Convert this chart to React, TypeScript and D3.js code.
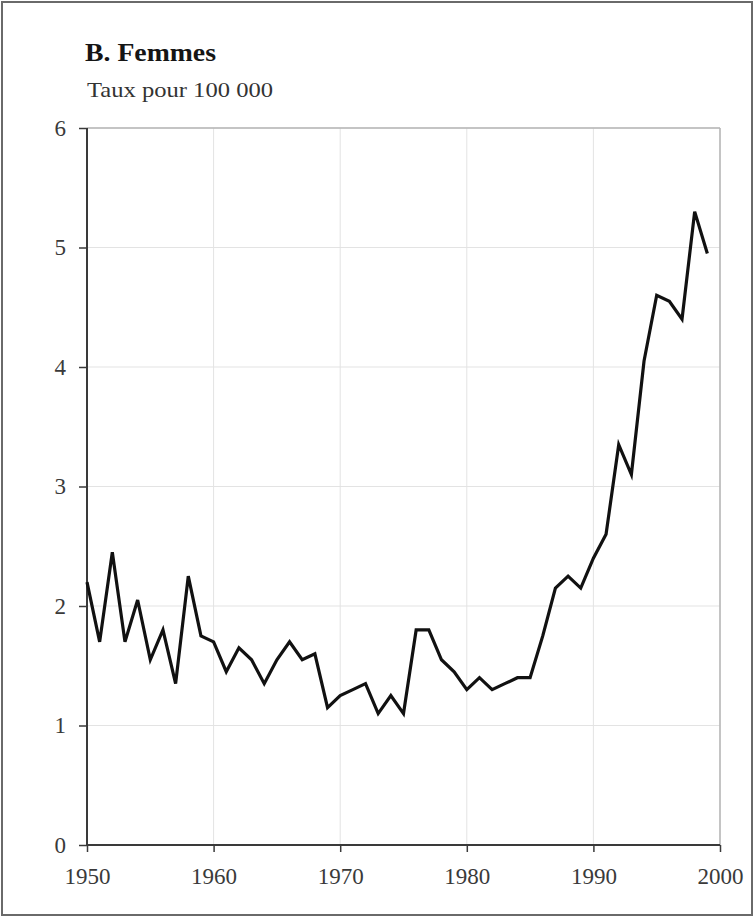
import React, { useEffect, useRef } from "react";
import * as d3 from "d3";

const years: number[] = [
  1950, 1951, 1952, 1953, 1954, 1955, 1956, 1957, 1958, 1959,
  1960, 1961, 1962, 1963, 1964, 1965, 1966, 1967, 1968, 1969,
  1970, 1971, 1972, 1973, 1974, 1975, 1976, 1977, 1978, 1979,
  1980, 1981, 1982, 1983, 1984, 1985, 1986, 1987, 1988, 1989,
  1990, 1991, 1992, 1993, 1994, 1995, 1996, 1997, 1998, 1999,
];
const rates: number[] = [
  2.2, 1.7, 2.45, 1.7, 2.05, 1.55, 1.8, 1.35, 2.25, 1.75,
  1.7, 1.45, 1.65, 1.55, 1.35, 1.55, 1.7, 1.55, 1.6, 1.15,
  1.25, 1.3, 1.35, 1.1, 1.25, 1.1, 1.8, 1.8, 1.55, 1.45,
  1.3, 1.4, 1.3, 1.35, 1.4, 1.4, 1.75, 2.15, 2.25, 2.15,
  2.4, 2.6, 3.35, 3.1, 4.05, 4.6, 4.55, 4.4, 5.3, 4.95,
];
const xTicks: number[] = [1950, 1960, 1970, 1980, 1990, 2000];
const yTicks: number[] = [0, 1, 2, 3, 4, 5, 6];
const title = "B. Femmes";
const subtitle = "Taux pour 100 000";

const W = 754;
const H = 917;
const FONT = "'Liberation Serif', 'DejaVu Serif', serif";

export default function App() {
  const ref = useRef<SVGSVGElement>(null);

  useEffect(() => {
    document.body.style.margin = "0";
    const svg = d3.select(ref.current);
    svg.selectAll("*").remove();

    const left = 87, right = 720, top = 128, bottom = 845;
    const x = d3.scaleLinear().domain([1950, 2000]).range([left, right]);
    const y = d3.scaleLinear().domain([0, 6]).range([bottom, top]);

    svg.append("rect").attr("x", 0).attr("y", 0).attr("width", W).attr("height", H).attr("fill", "#fff");
    svg.append("rect")
      .attr("x", 2).attr("y", 2).attr("width", W - 4).attr("height", H - 4)
      .attr("fill", "none").attr("stroke", "#6a6a6a").attr("stroke-width", 2);

    svg.append("text").attr("x", 85).attr("y", 61).attr("font-family", FONT)
      .attr("font-size", 25).attr("font-weight", "bold").attr("fill", "#151515")
      .attr("textLength", 131).attr("lengthAdjust", "spacingAndGlyphs").text(title);
    svg.append("text").attr("x", 87).attr("y", 97).attr("font-family", FONT)
      .attr("font-size", 22).attr("fill", "#333")
      .attr("textLength", 186).attr("lengthAdjust", "spacingAndGlyphs").text(subtitle);

    const g = svg.append("g");
    // grid
    g.selectAll("line.hg").data(yTicks.filter((d) => d > 0)).join("line")
      .attr("x1", left).attr("x2", right).attr("y1", (d) => y(d)).attr("y2", (d) => y(d))
      .attr("stroke", "#e3e3e3").attr("stroke-width", 1);
    g.selectAll("line.vg").data(xTicks.filter((d) => d > 1950)).join("line")
      .attr("x1", (d) => x(d)).attr("x2", (d) => x(d)).attr("y1", top).attr("y2", bottom)
      .attr("stroke", "#e3e3e3").attr("stroke-width", 1);
    // frame top/right
    g.append("line").attr("x1", left).attr("x2", right).attr("y1", top).attr("y2", top)
      .attr("stroke", "#b5b5b5").attr("stroke-width", 1.5);
    g.append("line").attr("x1", right).attr("x2", right).attr("y1", top).attr("y2", bottom)
      .attr("stroke", "#b5b5b5").attr("stroke-width", 1.5);

    // axes
    const yAxis = d3.axisLeft(y).tickValues(yTicks).tickSize(8).tickPadding(13).tickFormat(d3.format("d"));
    const ya = svg.append("g").attr("transform", `translate(${left},0)`).call(yAxis);
    const xAxis = d3.axisBottom(x).tickValues(xTicks).tickSize(7).tickPadding(16).tickFormat(d3.format("d"));
    const xa = svg.append("g").attr("transform", `translate(0,${bottom})`).call(xAxis);
    [ya, xa].forEach((a) => {
      a.select(".domain").attr("stroke", "#3a3a3a").attr("stroke-width", 2);
      a.selectAll(".tick line").attr("stroke", "#3a3a3a").attr("stroke-width", 1.5);
      a.selectAll(".tick text").attr("font-family", FONT).attr("font-size", 23).attr("fill", "#3a3a3a");
    });
    ya.select(".domain").attr("d", `M0,${top}V${bottom}`);
    xa.select(".domain").attr("d", `M${left},0H${right}`);

    const line = d3.line<number>().x((_, i) => x(years[i])).y((d) => y(d));
    svg.append("path").datum(rates).attr("d", line).attr("fill", "none")
      .attr("stroke", "#111").attr("stroke-width", 3.2).attr("stroke-linejoin", "miter");
  }, []);

  return (
    <svg ref={ref} width={W} height={H} style={{ display: "block", position: "absolute", left: 0, top: 0 }} />
  );
}
